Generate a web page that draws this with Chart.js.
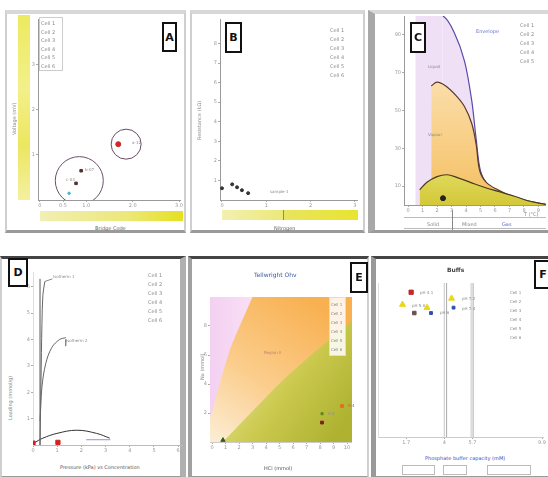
<!DOCTYPE html>
<html>
<head>
<meta charset="utf-8">
<script src="https://cdn.jsdelivr.net/npm/chart.js@4"></script>
<style>
  body { margin: 0; width: 548px; height: 477px; position: relative; background: #fff; overflow: hidden; font-family: 'DejaVu Sans', sans-serif; }
  .frame { position: absolute; box-sizing: border-box; border: 2px solid #cfcfcf; border-bottom: 3px solid #9a9a9a; background: #fff; }
  .tag { position: absolute; z-index: 3; box-sizing: border-box; border: 2px solid #111; background: #fff; color: #111; font: bold 11px 'DejaVu Sans'; display: flex; align-items: center; justify-content: center; }
  .t { position: absolute; z-index: 3; font-size: 5px; line-height: 6px; color: #8a8a8a; white-space: nowrap; }
  .vt { position: absolute; z-index: 3; font-size: 5px; color: #8a8a8a; white-space: nowrap; transform: rotate(-90deg); transform-origin: left top; }
  .bar { position: absolute; }
  .top { z-index: 2; }
  canvas { position: absolute; z-index: 1; }
</style>
</head>
<body>
<!-- ============ frames ============ -->
<div class="frame" style="left:5px;top:10px;width:181px;height:223px;border-top:4px solid #d8d8d8"></div>
<div class="frame" style="left:190px;top:10px;width:175px;height:223px;border-top:4px solid #d8d8d8"></div>
<div class="frame" style="left:368px;top:10px;width:182px;height:223px;border-left:7px solid #a8a8a8;border-top:4px solid #d8d8d8"></div>
<div class="frame" style="left:0px;top:256px;width:186px;height:223px;border-top:3px solid #444;border-right:6px solid #b0b0b0"></div>
<div class="frame" style="left:188px;top:256px;width:181px;height:223px;border-top:3px solid #444;border-left:4px solid #a0a0a0"></div>
<div class="frame" style="left:371px;top:256px;width:179px;height:223px;border-top:3px solid #444;border-left:5px solid #999"></div>

<!-- A decorations -->
<div class="bar" style="left:18px;top:15px;width:12px;height:185px;background:linear-gradient(to bottom,#ecea60,#f3f08a 40%,#ede660 70%,#f4f0a0)"></div>
<div class="bar" style="left:40px;top:211px;width:143px;height:10px;background:linear-gradient(to right,#f1efb4,#ece87a 60%,#e6e020)"></div>
<div class="vt" style="left:11px;top:135px">Voltage (mV)</div>
<div class="t" style="left:95px;top:225px;color:#666">Bridge Code</div>
<div class="bar top" style="left:39px;top:17px;width:22px;height:52px;border:1px solid #ccc;background:#fff"></div>
<div class="t" style="left:41px;top:19px;line-height:8.5px">Cell 1<br>Cell 2<br>Cell 3<br>Cell 4<br>Cell 5<br>Cell 6</div>
<div class="t" style="left:132px;top:140px;font-size:4px">a-12</div>
<div class="t" style="left:85px;top:167px;font-size:4px">b-07</div>
<div class="t" style="left:66px;top:177px;font-size:4px">c-03</div>
<div class="tag" style="left:162px;top:22px;width:15px;height:30px">A</div>

<!-- B decorations -->
<div class="bar" style="left:222px;top:210px;width:61px;height:10px;background:linear-gradient(to right,#f3f0b0,#ece87a)"></div>
<div class="bar" style="left:283px;top:210px;width:74px;height:10px;background:linear-gradient(to right,#e8e460,#e8e430);border-left:1px solid #888"></div>
<div class="vt" style="left:196px;top:140px">Resistance (kΩ)</div>
<div class="t" style="left:274px;top:225px;color:#666">Nitrogen</div>
<div class="t" style="left:330px;top:26px;line-height:9px">Cell 1<br>Cell 2<br>Cell 3<br>Cell 4<br>Cell 5<br>Cell 6</div>
<div class="t" style="left:270px;top:189px;font-size:4px">sample-1</div>
<div class="tag" style="left:225px;top:22px;width:17px;height:31px">B</div>

<!-- C decorations -->
<div class="t" style="left:476px;top:28px;color:#6a7ad0">Envelope</div>
<div class="t" style="left:520px;top:21px;line-height:9px">Cell 1<br>Cell 2<br>Cell 3<br>Cell 4<br>Cell 5</div>
<div class="t" style="left:428px;top:64px;font-size:4px">Liquid</div>
<div class="t" style="left:428px;top:132px;font-size:4px">Vapour</div>
<div class="bar" style="left:404px;top:217px;width:142px;height:1px;background:#bbb"></div>
<div class="bar" style="left:404px;top:228px;width:142px;height:1px;background:#bbb"></div>
<div class="bar" style="left:452px;top:210px;width:1px;height:20px;background:#888"></div>
<div class="t" style="left:427px;top:221px">Solid</div>
<div class="t" style="left:462px;top:221px">Mixed</div>
<div class="t" style="left:502px;top:221px;color:#5a70d0">Gas</div>
<div class="t" style="left:524px;top:211px">T (°C)</div>
<div class="tag" style="left:410px;top:22px;width:16px;height:31px">C</div>

<!-- D decorations -->
<div class="t" style="left:53px;top:274px;font-size:4px">Isotherm 1</div>
<div class="t" style="left:66px;top:338px;font-size:4px">Isotherm 2</div>
<div class="t" style="left:148px;top:271px;line-height:9px">Cell 1<br>Cell 2<br>Cell 3<br>Cell 4<br>Cell 5<br>Cell 6</div>
<div class="t" style="left:60px;top:464px;color:#555">Pressure (kPa) vs Concentration</div>
<div class="vt" style="left:7px;top:420px">Loading (mmol/g)</div>
<div class="tag" style="left:8px;top:258px;width:20px;height:29px">D</div>

<!-- E decorations -->
<div class="t" style="left:254px;top:272px;font-size:6px;color:#3a5a9a">Tellwright Ohv</div>
<div class="t" style="left:264px;top:350px;color:#c08070;font-size:4px">Region II</div>
<div class="t" style="left:348px;top:403px;font-size:4px;color:#b06030">X-4</div>
<div class="t" style="left:328px;top:411px;font-size:4px">X-2</div>
<div class="t" style="left:264px;top:465px;color:#555">HCl (mmol)</div>
<div class="vt" style="left:199px;top:380px">Na (mmol)</div>
<div class="bar top" style="left:329px;top:297px;width:15px;height:57px;background:rgba(255,255,255,0.85);border:1px solid #ddd"></div>
<div class="t" style="left:331px;top:300px;line-height:9px;font-size:4px">Cell 1<br>Cell 2<br>Cell 3<br>Cell 4<br>Cell 5<br>Cell 6</div>
<div class="tag" style="left:350px;top:262px;width:18px;height:31px">E</div>

<!-- F decorations -->
<div class="t" style="left:447px;top:267px;font-size:6px;color:#444;font-weight:bold">Buffs</div>
<div class="t" style="left:420px;top:290px;font-size:4px">pH 4.1</div>
<div class="t" style="left:412px;top:303px;font-size:4px">pH 5.0</div>
<div class="t" style="left:440px;top:310px;font-size:4px">pH 6</div>
<div class="t" style="left:462px;top:296px;font-size:4px">pH 7.2</div>
<div class="t" style="left:462px;top:306px;font-size:4px">pH 7.4</div>
<div class="t" style="left:510px;top:288px;line-height:9px;font-size:4px">Cell 1<br>Cell 2<br>Cell 3<br>Cell 4<br>Cell 5<br>Cell 6</div>
<div class="t" style="left:425px;top:455px;color:#3050c0">Phosphate buffer capacity (mM)</div>
<div class="bar" style="left:402px;top:465px;width:31px;height:8px;border:1px solid #bbb"></div>
<div class="bar" style="left:443px;top:465px;width:22px;height:8px;border:1px solid #bbb"></div>
<div class="bar" style="left:487px;top:465px;width:42px;height:8px;border:1px solid #bbb"></div>
<div class="tag" style="left:534px;top:260px;width:18px;height:29px">F</div>

<canvas id="chA" width="158" height="195" style="left:26px;top:15px"></canvas>
<canvas id="chB" width="154" height="195" style="left:204px;top:15px"></canvas>
<canvas id="chC" width="166" height="203" style="left:380px;top:12px"></canvas>
<canvas id="chD" width="169" height="193" style="left:14px;top:268px"></canvas>
<canvas id="chE" width="157" height="167" style="left:195px;top:293px"></canvas>
<canvas id="chF" width="175" height="168" style="left:372px;top:283px"></canvas>

<script>
// ---- panel A: rings around two sample groups
const aTicksX = [0, 0.5, 1, 2, 3];
const aTicksY = [1, 2, 3];
const aRedPoint = [[1.69, 1.24]];
const aRingSmall = [[1.86, 1.24]];
const aRingLarge = [[0.85, 0.43]];
const aMarkers = [[0.89, 0.65], [0.78, 0.37]];
const aCyan = [[0.63, 0.15]];

// ---- panel B: cluster near origin
const bTicksX = [0, 1, 2, 3];
const bTicksY = [1, 2, 3, 4, 5, 6, 7, 8];
const bPoints = [[0.45, 0.5], [0.34, 0.65], [0.59, 0.35], [0.0, 0.6], [0.23, 0.8]];

// ---- panel C: phase envelopes
const cTicksX = [0, 1, 2, 3, 4, 5, 6, 7, 8, 9];
const cTicksY = [10, 30, 50, 70, 90];
const cPurple = [[0.5, 100], [2.4, 100], [3.2, 91], [3.9, 76], [4.4, 55], [4.7, 35], [5.0, 18], [5.6, 10], [7.0, 5], [8.4, 1.5], [9.5, 0]];
const cOrange = [[1.6, 63], [2.0, 65], [2.6, 63], [3.3, 58], [3.9, 52], [4.4, 43], [4.7, 32], [4.95, 18], [5.4, 12], [6.2, 8], [7.2, 4.5], [8.5, 1.8], [9.5, 0.3]];
const cGreen = [[0.8, 8], [1.3, 12], [2.0, 15], [2.7, 16], [3.4, 14.5], [4.3, 12], [5.2, 9.5], [6.3, 7], [7.4, 4.5], [8.4, 2], [9.5, 0.3]];
const cDot = [[2.41, 3.6]];

// ---- panel D: isotherms
const dTicksX = [0, 1, 2, 3, 4, 5, 6];
const dTicksY = [1, 2, 3, 4, 5, 6];
const dSteep = [[0.29, 0], [0.31, 1.2], [0.33, 2.4], [0.37, 4.6], [0.41, 5.7], [0.49, 6.2]];
const dSteepLabel = [[0.49, 6.2], [0.8, 6.3]];
const dKnee = [[0.29, 0.9], [0.37, 2.2], [0.53, 3.1], [0.78, 3.7], [1.1, 4.0], [1.36, 4.07]];
const dKneeLabel = [[1.36, 4.0], [1.35, 3.75]];
const dAxisLine = [[0.29, 0], [0.29, 6.3]];
const dHump = [[0.08, 0.1], [0.41, 0.26], [0.99, 0.44], [1.81, 0.56], [2.63, 0.44], [3.17, 0.26]];
const dPurple = [[2.2, 0.2], [3.2, 0.2]];
const dRed = [[0.0, 0.07], [1.03, 0.1]];

// ---- panel E: stability regions
const eTicksX = [0, 1, 2, 3, 4, 5, 6, 7, 8, 9, 10];
const eTicksY = [2, 4, 6, 8];
const ePinkEdge = [[-0.15, 1.6], [1.3, 6.3], [3.0, 10]];
const eGreenEdge = [[0.8, 0], [5.4, 4.4], [10.37, 8.4]];
const eFullArea = [[-0.15, 10], [10.37, 10]];
const eOrangePt = [[9.63, 2.48]];
const eGreenPt = [[8.15, 1.95]];
const eRedPt = [[8.15, 1.34]];
const eStart = [[0.81, 0.13]];

// ---- panel F: buffers
const fTicksX = [1.7, 4, 5.7, 9.9];
const fDivA = [[4.0, 0], [4.0, 10]];
const fDivB = [[4.14, 0], [4.14, 10]];
const fDivC = [[5.62, 0], [5.62, 10]];
const fDivD = [[5.74, 0], [5.74, 10]];
const fRed = [[2.0, 9.4]];
const fYellow = [[1.48, 8.6], [2.96, 8.4], [4.44, 9.0]];
const fDark = [[2.19, 8.05]];
const fBlue = [[3.2, 8.05], [4.56, 8.4]];

const pts = arr => arr.map(([x, y]) => ({ x, y }));

function grad(chart, x0, y0, x1, y1, stops) {
  const a = chart.chartArea;
  if (!a) return stops[0][1];
  const w = a.right - a.left, h = a.bottom - a.top;
  const g = chart.ctx.createLinearGradient(a.left + x0 * w, a.top + y0 * h, a.left + x1 * w, a.top + y1 * h);
  stops.forEach(([o, c]) => g.addColorStop(o, c));
  return g;
}

function axis(o, horiz) {
  return {
    type: 'linear', min: o.min, max: o.max,
    grid: { drawOnChartArea: false, tickLength: 2, color: '#aaa' },
    border: { display: o.border !== false, color: o.line || '#999' },
    ticks: { display: o.labels !== false, font: { size: 5, family: 'DejaVu Sans' }, color: '#999', padding: 1, includeBounds: false, maxRotation: 0, autoSkip: false },
    afterBuildTicks: s => { s.ticks = o.ticks.map(v => ({ value: v })); },
    afterFit: s => { if (horiz) s.height = o.size; else s.width = o.size; }
  };
}

function line(data, color, extra) {
  return Object.assign({ data: pts(data), showLine: true, borderColor: color, borderWidth: 1, pointRadius: 0, fill: false, tension: 0.35 }, extra || {});
}
function dots(data, color, extra) {
  return Object.assign({ data: pts(data), showLine: false, backgroundColor: color, borderColor: color, pointRadius: 2 }, extra || {});
}

function panel(id, datasets, sx, sy) {
  return new Chart(document.getElementById(id), {
    type: 'scatter',
    data: { datasets },
    options: {
      responsive: false, animation: false, devicePixelRatio: 1,
      layout: { padding: 0, autoPadding: false },
      plugins: { legend: { display: false }, tooltip: { enabled: false } },
      scales: { x: axis(sx, true), y: axis(sy, false) }
    }
  });
}

panel('chA', [
  dots(aRedPoint, '#d02828', { pointRadius: 2.5 }),
  dots(aMarkers, '#553030', { pointStyle: 'rect', pointRadius: 1.8 }),
  dots(aCyan, '#40b8c8', { pointRadius: 1.2 }),
  dots(aRingSmall, 'transparent', { borderColor: '#6a4a60', borderWidth: 1, pointRadius: 15 }),
  dots(aRingLarge, 'transparent', { borderColor: '#6a5068', borderWidth: 1, pointRadius: 24 })
], { min: -0.04, max: 3.04, ticks: aTicksX, size: 10 }, { min: 0, max: 4.02, ticks: aTicksY, size: 12 });

panel('chB', [
  dots(bPoints, '#333', { pointRadius: 1.5 })
], { min: -0.045, max: 3.07, ticks: bTicksX, size: 10 }, { min: 0, max: 9.25, ticks: bTicksY, size: 16 });

panel('chC', [
  dots(cDot, '#222', { pointRadius: 2.5 }),
  line(cGreen, '#4a3a20', { fill: 'origin', borderWidth: 1.2,
    backgroundColor: c => grad(c.chart, 0, 0.8, 0, 1, [[0, '#e4dc64'], [1, '#d2c838']]) }),
  line(cOrange, '#5a3a28', { fill: 'origin', borderWidth: 1.2,
    backgroundColor: c => grad(c.chart, 0, 0.3, 0, 1, [[0, '#fbe0b0'], [0.6, '#f8cc80'], [1, '#f2c060']]) }),
  line(cPurple, '#5a4aa8', { fill: 'origin', borderWidth: 1.2, tension: 0.3,
    backgroundColor: '#efe0f6',
    segment: { borderColor: s => s.p0DataIndex === 0 ? 'transparent' : undefined } })
], { min: -0.28, max: 9.52, ticks: cTicksX, size: 10 }, { min: 0, max: 100, ticks: cTicksY, size: 24 });

panel('chD', [
  dots(dRed, '#d42020', { pointStyle: 'rect', pointRadius: 3 }),
  line(dSteep, '#666'),
  line(dSteepLabel, '#888', { tension: 0 }),
  line(dKnee, '#666'),
  line(dKneeLabel, '#888', { tension: 0 }),
  line(dAxisLine, '#555', { tension: 0 }),
  line(dHump, '#333', { tension: 0.4 }),
  line(dPurple, '#a888d0', { tension: 0 })
], { min: 0, max: 6.2, ticks: dTicksX, size: 16, line: '#bbb' }, { min: 0, max: 6.56, ticks: dTicksY, size: 19, line: '#ddd' });

panel('chE', [
  dots(eOrangePt, '#e07020', { pointStyle: 'rect', pointRadius: 2 }),
  dots(eGreenPt, '#5a8a20', { pointStyle: 'rect', pointRadius: 1.5 }),
  dots(eRedPt, '#802020', { pointStyle: 'rect', pointRadius: 2 }),
  dots(eStart, '#3a5a20', { pointStyle: 'triangle', pointRadius: 2.5 }),
  line(ePinkEdge, 'transparent', { borderWidth: 0, tension: 0.2, fill: 'end',
    backgroundColor: c => grad(c.chart, 0, 0, 0.35, 0, [[0, '#f4d0f2'], [1, '#f9e2f4']]) }),
  line(eGreenEdge, 'transparent', { borderWidth: 0, tension: 0.2, fill: 'start',
    backgroundColor: c => grad(c.chart, 0.3, 0.3, 1, 0.8, [[0, '#e6e290'], [0.45, '#ccca50'], [1, '#aeb230']]) }),
  line(eFullArea, 'transparent', { borderWidth: 0, tension: 0, fill: 'start',
    backgroundColor: c => grad(c.chart, 0, 1, 0.7, 0, [[0, '#fbeed6'], [0.45, '#fbcd8c'], [1, '#f8b050']]) })
], { min: -0.15, max: 10.37, ticks: eTicksX, size: 18, line: '#ccc' }, { min: 0, max: 10, ticks: eTicksY, size: 15, line: '#ccc' });

panel('chF', [
  dots(fRed, '#c42828', { pointStyle: 'rect', pointRadius: 3 }),
  dots(fYellow, '#e8d820', { pointStyle: 'triangle', pointRadius: 3.5 }),
  dots(fDark, '#6a5050', { pointStyle: 'rect', pointRadius: 2.5 }),
  dots(fBlue, '#3050a8', { pointStyle: 'rect', pointRadius: 2 }),
  line(fDivA, '#c8c8c8', { tension: 0 }),
  line(fDivB, '#aaaaaa', { tension: 0 }),
  line(fDivC, '#c8c8c8', { tension: 0 }),
  line(fDivD, '#aaaaaa', { tension: 0 })
], { min: 0, max: 10, ticks: fTicksX, size: 14, line: '#ccc' }, { min: 0, max: 10, ticks: [], size: 6, line: '#ddd', labels: false });
</script>
</body>
</html>
